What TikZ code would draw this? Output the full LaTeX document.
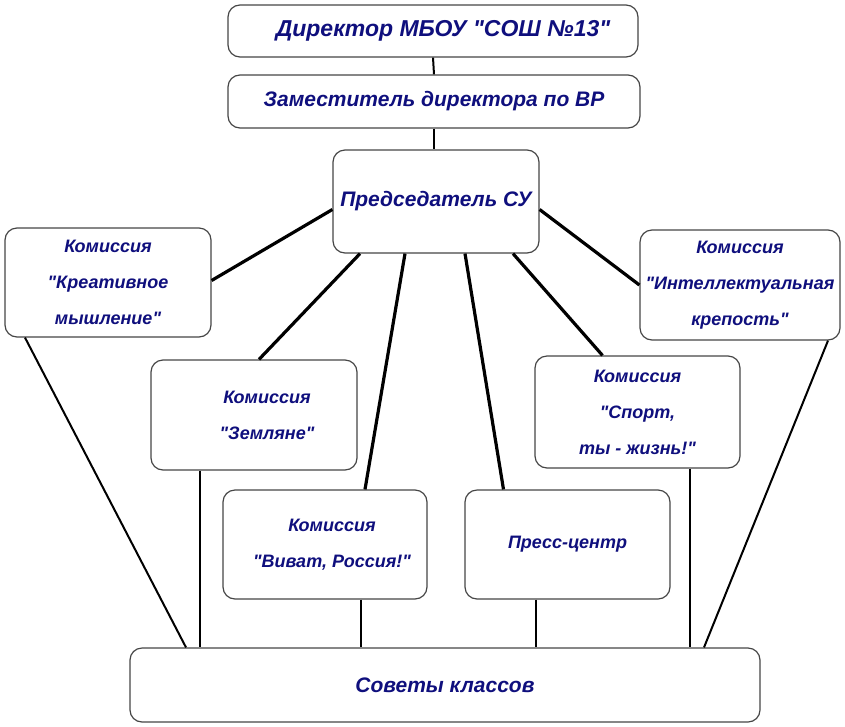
\documentclass[tikz,border=0pt]{standalone}
\usepackage{fontspec}
\setmainfont{Liberation Sans}[Ligatures=TeXOff]
\usetikzlibrary{calc}
\definecolor{txt}{RGB}{15,15,125}
\definecolor{edge}{RGB}{70,70,70}
\tikzset{
  box/.style={draw=edge, line width=1.2pt, rounded corners=12pt, fill=white,
    inner sep=0pt, align=center, text=txt,
    font=\bfseries\itshape},
  big/.style={box, font=\fontsize{23}{28}\selectfont\bfseries\itshape},
  mid/.style={box, font=\fontsize{21}{28}\selectfont\bfseries\itshape},
  small/.style={box, font=\fontsize{18}{36}\selectfont\bfseries\itshape},
  thick link/.style={line width=3.2pt, black},
  link/.style={line width=2pt, black}
}
\begin{document}
\begin{tikzpicture}[x=1pt,y=-1pt]
\useasboundingbox (0,0) rectangle (845,726);
\node[big, minimum width=410pt, minimum height=52pt] (dir) at (433,31) {\hspace*{20pt}Директор МБОУ "СОШ №13"};
\node[mid, minimum width=412pt, minimum height=53pt] (dep) at (434,101.5) {Заместитель директора по ВР};
\node[mid, minimum width=206pt, minimum height=103pt] (chair) at (436,201.5) {Председатель СУ};
\node[small, minimum width=206pt, minimum height=109pt] (kre) at (108,282.5) {Комиссия\\"Креативное\\мышление"};
\node[small, minimum width=200pt, minimum height=110pt] (int) at (740,285) {Комиссия\\"Интеллектуальная\\крепость"};
\node[small, minimum width=206pt, minimum height=110pt] (zem) at (254,415) {\hspace*{26pt}Комиссия\\\hspace*{26pt}"Земляне"};
\node[small, minimum width=205pt, minimum height=112pt] (sport) at (637.5,412) {Комиссия\\"Спорт,\\ты - жизнь!"};
\node[small, minimum width=204pt, minimum height=109pt] (viv) at (325,544.5) {\hspace*{14pt}Комиссия\\\hspace*{14pt}"Виват, Россия!"};
\node[small, minimum width=205pt, minimum height=109pt] (press) at (567.5,544.5) {Пресс-центр};
\node[mid, minimum width=630pt, minimum height=74pt] (sov) at (445,685) {Советы классов};
% top links
\draw[link] (dir.south) -- (dep.north);
\draw[link] (dep.south) -- (dep.south |- chair.north);
% chairman links
\draw[thick link] ([yshift=-8pt]chair.west) -- ([yshift=2pt]kre.east);
\draw[thick link] ([yshift=-8pt]chair.east) -- (int.west);
\draw[thick link] ([xshift=-76pt]chair.south) -- ([xshift=5pt]zem.north);
\draw[thick link] ([xshift=-31pt]chair.south) -- ([xshift=40pt]viv.north);
\draw[thick link] ([xshift=29pt]chair.south) -- ([xshift=-64pt]press.north);
\draw[thick link] ([xshift=77pt]chair.south) -- ([xshift=-35pt]sport.north);
% links to councils
\draw[link] ([xshift=-83pt]kre.south) -- ([xshift=-259pt]sov.north);
\draw[link] ([xshift=-54pt]zem.south) -- ([xshift=-54pt]zem.south |- sov.north);
\draw[link] ([xshift=36pt]viv.south) -- ([xshift=36pt]viv.south |- sov.north);
\draw[link] ([xshift=-32pt]press.south) -- ([xshift=-32pt]press.south |- sov.north);
\draw[link] ([xshift=52pt]sport.south) -- ([xshift=52pt]sport.south |- sov.north);
\draw[link] ([xshift=88pt]int.south) -- ([xshift=259pt]sov.north);
\end{tikzpicture}
\end{document}
